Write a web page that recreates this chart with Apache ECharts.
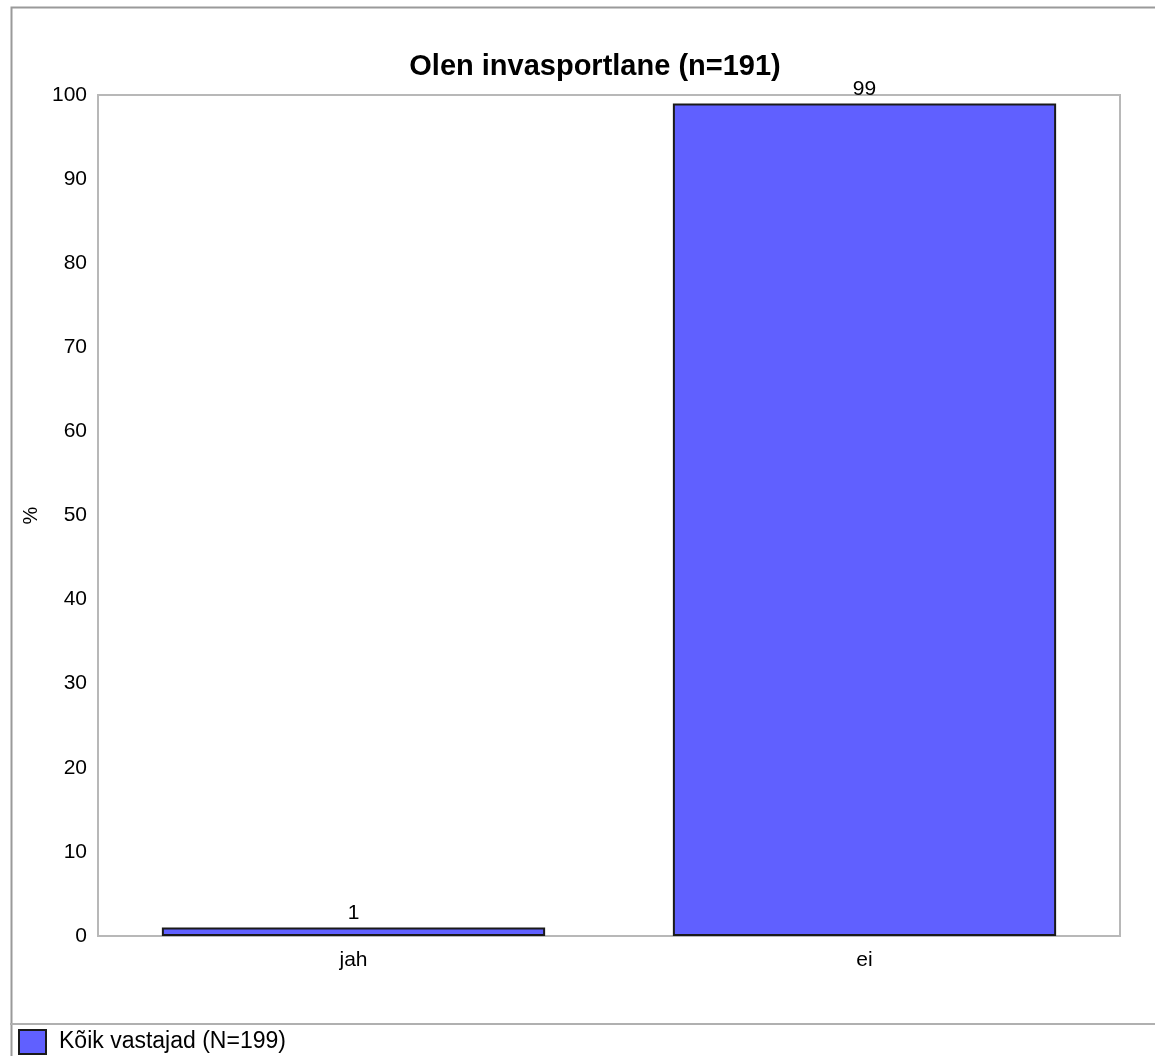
<!DOCTYPE html>
<html>
<head>
<meta charset="utf-8">
<script src="https://cdn.jsdelivr.net/npm/echarts@6/dist/echarts.min.js"></script>
<style>
html,body{margin:0;padding:0;background:#fff;}
#chart{width:1155px;height:1056px;}
</style>
</head>
<body>
<div id="chart"></div>
<script>
const titleText = 'Olen invasportlane (n=191)';
const categories = ['jah', 'ei'];
const seriesName = 'Kõik vastajad (N=199)';
const values = [1, 99];
const yTicks = [0, 10, 20, 30, 40, 50, 60, 70, 80, 90, 100];
const yAxisName = '%';

const chart = echarts.init(document.getElementById('chart'), null, {renderer: 'canvas'});
const FONT = 'Liberation Sans, Arial, sans-serif';

chart.setOption({
  animation: false,
  backgroundColor: '#fff',
  title: {
    text: titleText,
    left: 590,
    top: 47,
    textAlign: 'center',
    textStyle: {fontFamily: FONT, fontSize: 29, fontWeight: 'bold', color: '#000'}
  },
  grid: {
    left: 98, right: 35, top: 95, bottom: 120,
    show: true, borderColor: '#b8b8b8', borderWidth: 2, backgroundColor: '#fff'
  },
  legend: {
    left: 18, top: 1029, padding: 0,
    itemWidth: 27, itemHeight: 24,
    icon: 'rect',
    data: [{name: seriesName, itemStyle: {color: '#6060ff', borderColor: '#1a1a1a', borderWidth: 2}}],
    textStyle: {fontFamily: FONT, fontSize: 23, color: '#000', padding: [0, 0, 0, 8]}
  },
  xAxis: {
    type: 'category',
    data: categories,
    axisLine: {show: false},
    axisTick: {show: false},
    axisLabel: {fontFamily: FONT, fontSize: 21, color: '#000', margin: 14}
  },
  yAxis: {
    type: 'value',
    min: yTicks[0], max: yTicks[yTicks.length - 1], interval: 10,
    name: yAxisName,
    nameLocation: 'middle',
    nameRotate: 90,
    nameGap: 56,
    nameTextStyle: {fontFamily: FONT, fontSize: 20, color: '#000'},
    axisLine: {show: false},
    axisTick: {show: false},
    splitLine: {show: false},
    axisLabel: {fontFamily: FONT, fontSize: 21, color: '#000', margin: 11}
  },
  series: [{
    name: seriesName,
    type: 'bar',
    data: values,
    barWidth: '75%',
    itemStyle: {color: '#6060ff', borderColor: '#1a1a1a', borderWidth: 2},
    label: {show: true, position: 'top', distance: 4, fontFamily: FONT, fontSize: 21, color: '#000'}
  }],
  graphic: [
    {type: 'rect', left: 9, top: 5, shape: {x: 0, y: 0, width: 1200, height: 1100}, style: {fill: 'none', stroke: '#9a9a9a', lineWidth: 2}, z: 100},
    {type: 'line', shape: {x1: 10, y1: 1024, x2: 1155, y2: 1024}, style: {stroke: '#b0b0b0', lineWidth: 2}, z: 100}
  ]
});
</script>
</body>
</html>
